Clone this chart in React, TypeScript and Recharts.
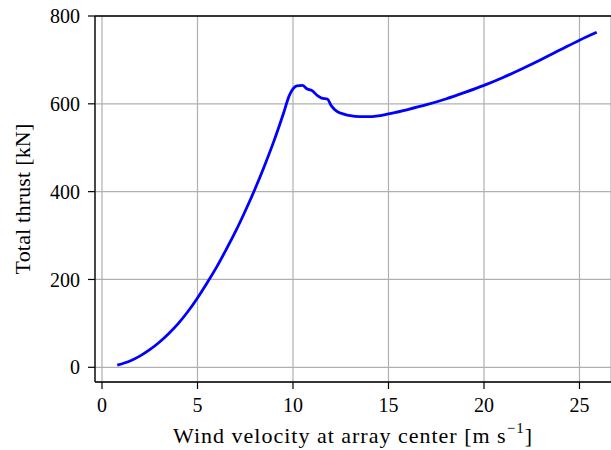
import { LineChart, Line, XAxis, YAxis, CartesianGrid, ReferenceLine } from "recharts";

// wind velocity at array center [m/s] and total thrust [kN]
const velocity = [
  0.8, 1.5, 2, 2.5, 3, 3.5, 4, 4.5, 5, 5.5, 6, 6.5, 7, 7.5, 8, 8.5, 9, 9.5, 9.8,
  10.0, 10.2, 10.5, 10.7, 11.0, 11.3, 11.5, 11.8, 12.0, 12.3, 12.7, 13.0, 13.5,
  14, 15, 16, 17, 18, 19, 20, 21, 22, 23, 24, 25, 25.9,
];
const thrust = [
  5, 15, 26, 40, 57, 77, 100, 127, 158, 192, 228, 268, 310, 356, 405, 458, 515, 578, 618,
  634, 641, 642, 635, 630, 618, 613, 611, 596, 583, 576, 573, 571,
  571, 577, 587, 598, 611, 626, 642, 660, 680, 701, 723, 745, 763,
];

const xTicks = [0, 5, 10, 15, 20, 25];
const yTicks = [0, 200, 400, 600, 800];

const FONT = "'Liberation Serif', 'DejaVu Serif', serif";
const GRID = "#b0b0b0";

const data = velocity.map((v, i) => ({ v, t: thrust[i] }));

const XLabel = (props: any) => {
  const vb = props.viewBox || {};
  const cx = vb.x + vb.width / 2;
  return (
    <text x={cx} y={443} textAnchor="middle" fontFamily={FONT} fontSize={22} letterSpacing={1} fill="#000">
      Wind velocity at array center [m s
      <tspan dy={-10} fontSize={15}>−1</tspan>
      <tspan dy={10}>]</tspan>
    </text>
  );
};

const YLabel = (props: any) => {
  const vb = props.viewBox || {};
  const cy = vb.y + vb.height / 2;
  return (
    <text
      x={30}
      y={cy}
      transform={`rotate(-90, 30, ${cy})`}
      textAnchor="middle"
      fontFamily={FONT}
      fontSize={22}
      letterSpacing={0.2}
      fill="#000"
    >
      Total thrust [kN]
    </text>
  );
};

export default function App() {
  return (
    <div style={{ position: "absolute", top: 0, left: 0, width: 611, height: 450, background: "#fff", overflow: "hidden" }}>
      <LineChart width={611} height={450} data={data} margin={{ top: 16, right: 0, bottom: 0, left: 0 }}>
        <CartesianGrid stroke={GRID} strokeWidth={1.2} />
        <XAxis
          dataKey="v"
          type="number"
          domain={[-0.366, 26.65]}
          ticks={xTicks}
          allowDataOverflow
          height={68}
          tickSize={7}
          tickMargin={9}
          axisLine={{ stroke: "#000", strokeWidth: 1.3 }}
          tickLine={{ stroke: "#000", strokeWidth: 1.2 }}
          tick={{ fontFamily: FONT, fontSize: 20, fill: "#000" }}
          label={<XLabel />}
        />
        <YAxis
          type="number"
          domain={[-33.5, 800]}
          ticks={yTicks}
          allowDataOverflow
          width={95}
          tickSize={7}
          tickMargin={8}
          axisLine={{ stroke: "#000", strokeWidth: 1.3 }}
          tickLine={{ stroke: "#000", strokeWidth: 1.2 }}
          tick={{ fontFamily: FONT, fontSize: 20, fill: "#000" }}
          label={<YLabel />}
        />
        <ReferenceLine y={800} stroke="#000" strokeWidth={1.3} />
        <Line
          dataKey="t"
          type="monotone"
          stroke="#0000ff"
          strokeWidth={2.8}
          dot={false}
          isAnimationActive={false}
        />
      </LineChart>
    </div>
  );
}
